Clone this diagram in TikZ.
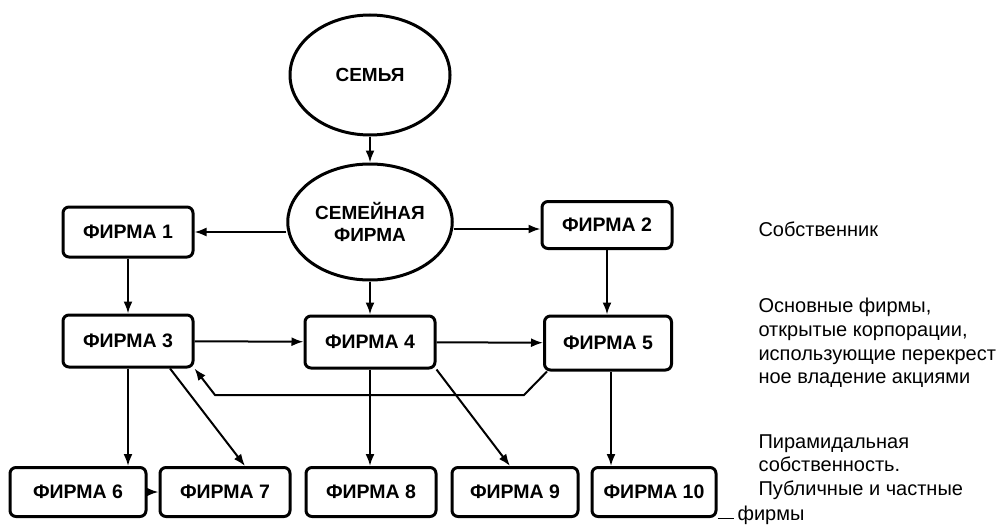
\documentclass[tikz,border=0pt]{standalone}
\usepackage{fontspec}
\setmainfont{Liberation Sans}
\usetikzlibrary{arrows.meta,shapes.geometric}

\begin{document}
\begin{tikzpicture}[x=1pt,y=-1pt,
  firm/.style={draw,line width=3pt,rounded corners=6pt,minimum width=130pt,minimum height=49pt,
    font=\fontsize{19.5}{22}\selectfont\bfseries},
  oval/.style={draw,ellipse,line width=3pt,minimum width=160pt,minimum height=120pt,align=center,
    font=\fontsize{19}{22}\selectfont\bfseries},
  note/.style={anchor=west,align=left,font=\fontsize{20}{23.6}\selectfont},
  link/.style={-{Latex[length=12pt,width=9pt]},line width=2pt}]
\useasboundingbox (0,0) rectangle (1000,532);
% owners
\node[oval] (family) at (370,75) {СЕМЬЯ};
\node[oval,minimum height=116pt] (famfirm) at (370,222) {СЕМЕЙНАЯ\\ФИРМА};
\node[firm,minimum height=50pt] (f1) at (128,232) {ФИРМА 1};
\node[firm,minimum height=47pt] (f2) at (607,225) {ФИРМА 2};
% core firms
\node[firm,minimum height=52pt] (f3) at (128,341) {ФИРМА 3};
\node[firm,minimum height=52pt] (f4) at (370,342) {ФИРМА 4};
\node[firm,minimum height=54pt,minimum width=127pt] (f5) at (608,343) {ФИРМА 5};
% pyramid
\node[firm,minimum width=136pt] (f6) at (78,492) {ФИРМА 6};
\node[firm] (f7) at (225,492) {ФИРМА 7};
\node[firm] (f8) at (371,492) {ФИРМА 8};
\node[firm,minimum width=126pt] (f9) at (515,492) {ФИРМА 9};
\node[firm,minimum width=124pt] (f10) at (654,492) {ФИРМА 10};
% levels
\node[note] (owner) at (755,229) {Собственник};
\node[note] (core) at (755,343) {Основные фирмы,\\открытые корпорации,\\использующие перекрест\\ное владение акциями};
\node[note] (pyr) at (755,467) {Пирамидальная\\собственность.\\Публичные и частные};
\node[note] (pyrend) at (734,515) {фирмы};

\draw[link] (family) -- (famfirm);
\draw[link] (famfirm.west |- f1.east) -- (f1.east);
\coordinate (in2) at ([yshift=-4pt]f2.west);
\draw[link] (famfirm.east |- in2) -- (in2);
\draw[link] (famfirm) -- (f4);
\draw[link] (f1) -- (f3);
\draw[link] (f2.south) -- (f2.south |- f5.north);
\draw[link] (f3) -- (f4);
\draw[link] (f4) -- (f5);
\coordinate (bend5) at (524,395);
\coordinate (bend3) at (215,395);
\draw[link] ([xshift=4pt]f5.south west) -- (bend5) -- (bend3) -- (f3.south east);
\draw[link] (f3.south) -- (f3.south |- f6.north);
\draw[link] ([xshift=42pt]f3.south) -- ([xshift=20pt]f7.north);
\draw[link] (f4.south) -- (f4.south |- f8.north);
\draw[link] (f4.south east) -- ([xshift=-5pt]f9.north);
\draw[link] ([xshift=3pt]f5.south) -- ([xshift=3pt]f5.south |- f10.north);
\draw[link] (f6) -- (f7);
\draw[line width=0.8pt] (f10.south east) -- (pyrend.west |- f10.south east);
\end{tikzpicture}
\end{document}
